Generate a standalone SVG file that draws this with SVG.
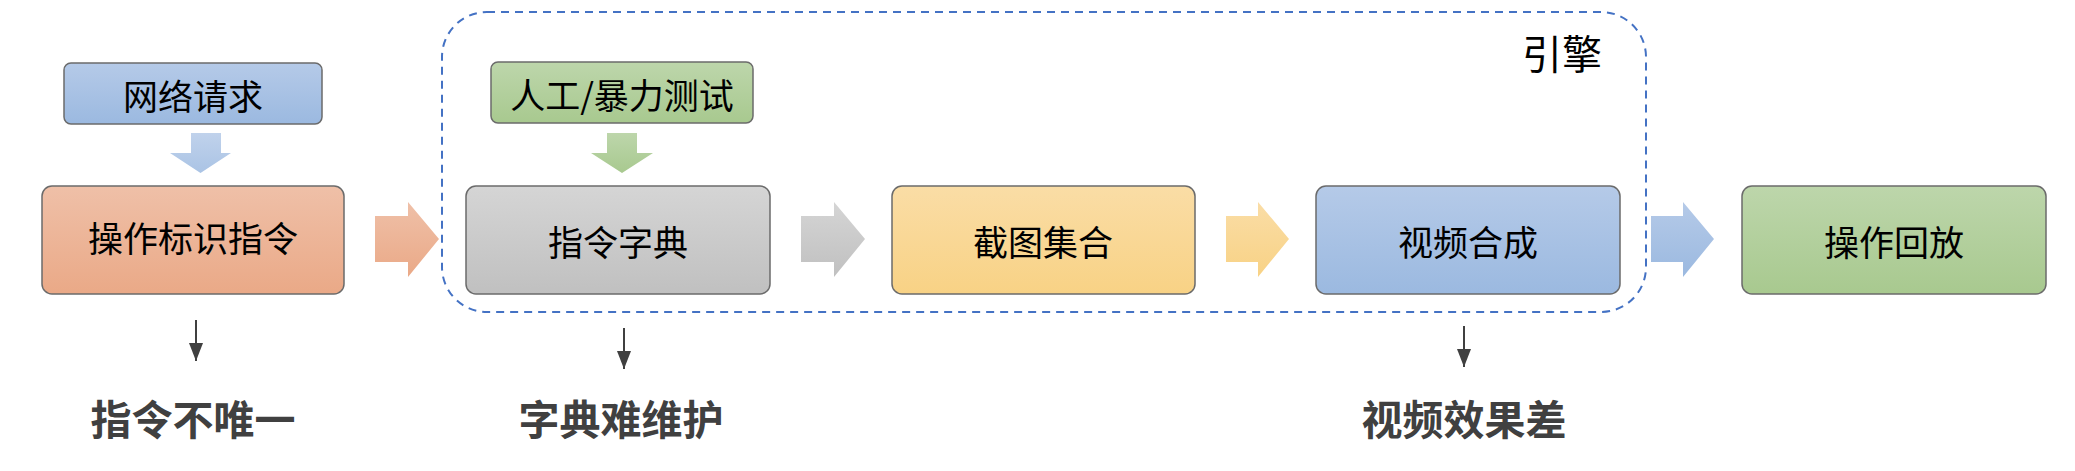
<svg xmlns="http://www.w3.org/2000/svg" width="2075" height="471" viewBox="0 0 2075 471">
  <defs>
    <linearGradient id="gOrange" x1="0" y1="0" x2="0" y2="1">
      <stop offset="0" stop-color="#efc0a8"/>
      <stop offset="1" stop-color="#eaa987"/>
    </linearGradient>
    <linearGradient id="gGray" x1="0" y1="0" x2="0" y2="1">
      <stop offset="0" stop-color="#d5d5d5"/>
      <stop offset="1" stop-color="#c0c0c0"/>
    </linearGradient>
    <linearGradient id="gYellow" x1="0" y1="0" x2="0" y2="1">
      <stop offset="0" stop-color="#fadda6"/>
      <stop offset="1" stop-color="#f8d285"/>
    </linearGradient>
    <linearGradient id="gBlue" x1="0" y1="0" x2="0" y2="1">
      <stop offset="0" stop-color="#b5cae8"/>
      <stop offset="1" stop-color="#9bb9e0"/>
    </linearGradient>
    <linearGradient id="gGreen" x1="0" y1="0" x2="0" y2="1">
      <stop offset="0" stop-color="#bdd6ab"/>
      <stop offset="1" stop-color="#a8c98f"/>
    </linearGradient>
    <marker id="darr" viewBox="0 0 18 14" refX="18" refY="7" markerWidth="18" markerHeight="14" markerUnits="userSpaceOnUse" orient="auto">
      <path d="M0,0 L18,7 L0,14 Z" fill="#404040"/>
    </marker>
    <style>
      .box { stroke: #6b6b6b; stroke-width: 1.5; }
      .lbl { font-family: "Noto Sans CJK SC", "Noto Sans", sans-serif; font-size: 35px; fill: #000; text-anchor: middle; dominant-baseline: central; }
      .warn { font-family: "Noto Sans CJK SC", "Noto Sans", sans-serif; font-size: 41px; font-weight: bold; fill: #404040; text-anchor: middle; dominant-baseline: central; }
      .title { font-family: "Noto Sans CJK SC", "Noto Sans", sans-serif; font-size: 40px; fill: #000; text-anchor: middle; dominant-baseline: central; }
      .thin { stroke: #404040; stroke-width: 2; fill: none; }
    </style>
  </defs>
  <rect width="2075" height="471" fill="#ffffff"/>

  <g id="engine">
    <rect x="442" y="12" width="1204" height="300" rx="45" ry="45" fill="none" stroke="#4472c4" stroke-width="2" stroke-dasharray="8,6"/>
    <text class="title" x="1562" y="52">引擎</text>
  </g>

  <g id="connectors">
    <!-- block arrows down -->
    <path d="M191,133 H221 V153 H231 L200.5,173 L170,153 H191 Z" fill="url(#gBlue)" opacity="0.85"/>
    <path d="M607,133 H637 V153 H653 L622,173 L591,153 H607 Z" fill="url(#gGreen)"/>
    <!-- block arrows right -->
    <path d="M375,216 H408 V202 L439,239 L408,277 V262 H375 Z" fill="url(#gOrange)"/>
    <path d="M801,216 H834 V202 L865,239 L834,277 V262 H801 Z" fill="url(#gGray)"/>
    <path d="M1226,216 H1258 V202 L1289,239 L1258,277 V262 H1226 Z" fill="url(#gYellow)"/>
    <path d="M1651,216 H1683 V202 L1714,239 L1683,277 V262 H1651 Z" fill="url(#gBlue)"/>
    <!-- thin arrows -->
    <line class="thin" x1="196" y1="320" x2="196" y2="361" marker-end="url(#darr)"/>
    <line class="thin" x1="624" y1="328" x2="624" y2="369" marker-end="url(#darr)"/>
    <line class="thin" x1="1464" y1="326" x2="1464" y2="367" marker-end="url(#darr)"/>
  </g>

  <g id="n-network">
    <rect class="box" x="64" y="63" width="258" height="61" rx="7" fill="url(#gBlue)"/>
    <text class="lbl" x="193" y="94">网络请求</text>
  </g>
  <g id="n-manual">
    <rect class="box" x="491" y="62" width="262" height="61" rx="7" fill="url(#gGreen)"/>
    <text class="lbl" x="622" y="93">人工/暴力测试</text>
  </g>

  <g id="n-op">
    <rect class="box" x="42" y="186" width="302" height="108" rx="10" fill="url(#gOrange)"/>
    <text class="lbl" x="193" y="236">操作标识指令</text>
  </g>
  <g id="n-dict">
    <rect class="box" x="466" y="186" width="304" height="108" rx="10" fill="url(#gGray)"/>
    <text class="lbl" x="618" y="240">指令字典</text>
  </g>
  <g id="n-shot">
    <rect class="box" x="892" y="186" width="303" height="108" rx="10" fill="url(#gYellow)"/>
    <text class="lbl" x="1043" y="240">截图集合</text>
  </g>
  <g id="n-video">
    <rect class="box" x="1316" y="186" width="304" height="108" rx="10" fill="url(#gBlue)"/>
    <text class="lbl" x="1468" y="240">视频合成</text>
  </g>
  <g id="n-replay">
    <rect class="box" x="1742" y="186" width="304" height="108" rx="10" fill="url(#gGreen)"/>
    <text class="lbl" x="1894" y="240">操作回放</text>
  </g>

  <g id="w1"><text class="warn" x="193" y="417">指令不唯一</text></g>
  <g id="w2"><text class="warn" x="621" y="417">字典难维护</text></g>
  <g id="w3"><text class="warn" x="1464" y="417">视频效果差</text></g>
</svg>
